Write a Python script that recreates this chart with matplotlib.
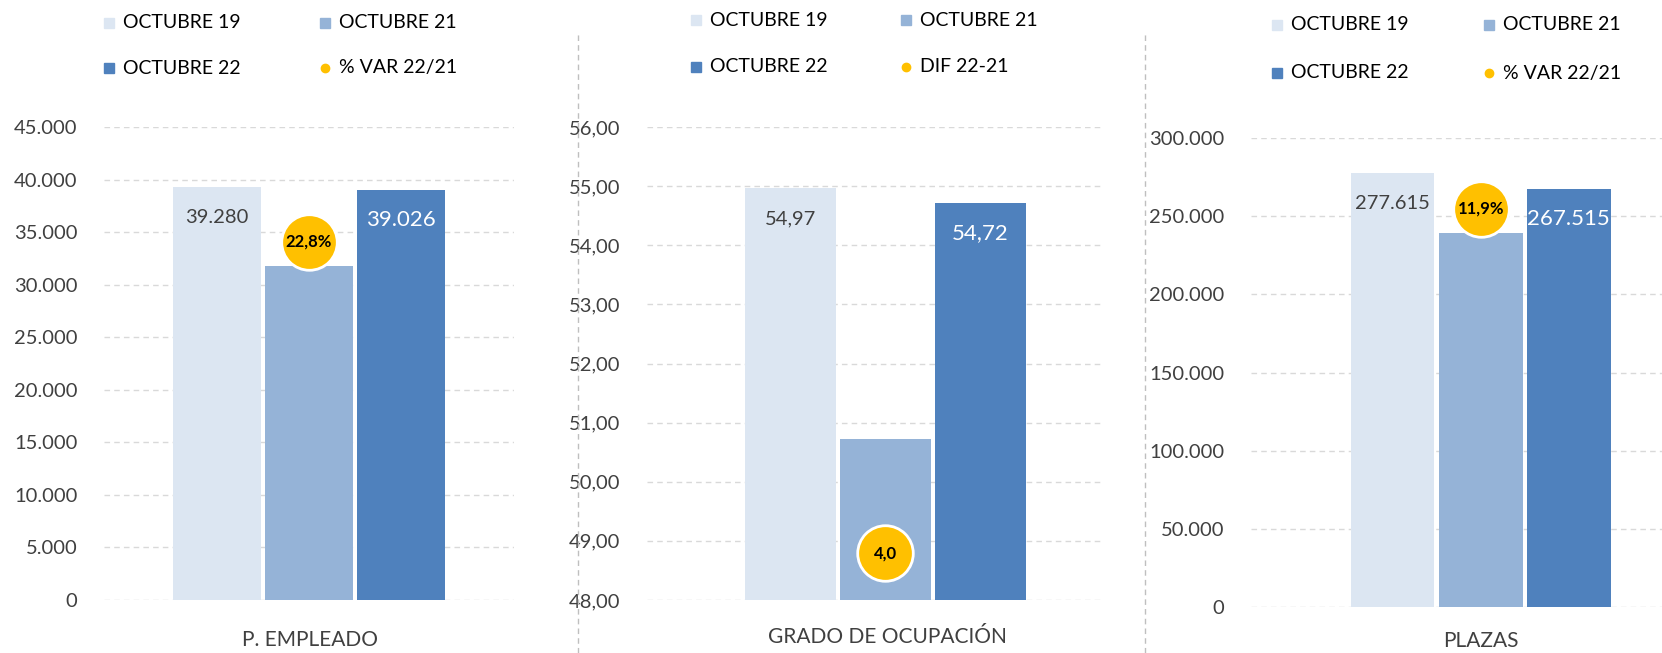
import matplotlib
matplotlib.use("Agg")
import matplotlib.pyplot as plt
from matplotlib.lines import Line2D
from matplotlib.ticker import FuncFormatter

plt.rcParams['font.family'] = ['Lato', 'DejaVu Sans']

# datos
series = ["OCTUBRE 19", "OCTUBRE 21", "OCTUBRE 22"]
colores = ["#DCE6F2", "#95B3D7", "#4F81BD"]
amarillo = "#FFC000"

categorias = ["P. EMPLEADO", "GRADO DE OCUPACIÓN", "PLAZAS"]
empleado = [39280, 31780, 39026]
ocupacion = [54.97, 50.72, 54.72]
plazas = [277615, 239066, 267515]
var_labels = ["22,8%", "4,0", "11,9%"]
var_nombres = ["% VAR 22/21", "DIF 22-21", "% VAR 22/21"]
var_pos = [34100, 48.79, 254600]

W, H = 1662, 653
fig = plt.figure(figsize=(W / 100, H / 100), dpi=100)


def caja(x0, x1, ytop, ybot):
    """pixeles -> fraccion de figura"""
    return [x0 / W, 1 - ybot / H, (x1 - x0) / W, (ybot - ytop) / H]


def fmt_miles(v, pos=None):
    return f"{v:,.0f}".replace(",", ".")


def fmt_dec(v, pos=None):
    return f"{v:.2f}".replace(".", ",")


paneles = [
    dict(box=caja(104, 514, 127, 600), xlim=(-2.23, 2.23), ylim=(0, 45000), step=5000,
         vals=empleado, fmt=fmt_miles, lab_x=292 * 1.06, lab_y=640,
         leg_x=(103 * 1.06, 307 * 1.06), leg_y=(23, 68)),
    dict(box=caja(647, 1102, 127, 600), xlim=(-2.51, 2.28), ylim=(48, 56), step=1,
         vals=ocupacion, fmt=fmt_dec, lab_x=837 * 1.06, lab_y=637,
         leg_x=(657 * 1.06, 855 * 1.06), leg_y=(20, 67)),
    dict(box=caja(1251, 1662, 138, 607), xlim=(-2.61, 2.06), ylim=(0, 300000), step=50000,
         vals=plazas, fmt=fmt_miles, lab_x=1397 * 1.06, lab_y=641,
         leg_x=(1205 * 1.06, 1405 * 1.06), leg_y=(25, 73)),
]

for i, p in enumerate(paneles):
    ax = fig.add_axes(p["box"])
    xs = [-1, 0, 1]
    base = p["ylim"][0]
    alturas = [v - base for v in p["vals"]]
    ax.bar(xs, alturas, bottom=base, width=0.95, color=colores, zorder=2)
    ax.set_xlim(*p["xlim"])
    ax.set_ylim(*p["ylim"])
    ticks = []
    t = p["ylim"][0]
    while t <= p["ylim"][1] + 1e-9:
        ticks.append(t)
        t += p["step"]
    ax.set_yticks(ticks)
    ax.yaxis.set_major_formatter(FuncFormatter(p["fmt"]))
    ax.tick_params(axis="y", length=0, pad=19, labelsize=14.5, labelcolor="#404040")
    ax.set_xticks([])
    for s in ax.spines.values():
        s.set_visible(False)
    ax.grid(axis="y", color="#D9D9D9", linestyle=(0, (4, 3)), linewidth=1, zorder=0)
    ax.set_axisbelow(True)

    # etiquetas de barras
    for x, v, c in [(-1, p["vals"][0], "#404040"), (1, p["vals"][2], "white")]:
        ax.annotate(p["fmt"](v), (x, v),
                    xytext=(0, -22), textcoords="offset points", ha="center", va="center",
                    fontsize=14.5 if c != "white" else 16, color=c, zorder=4)

    # circulo amarillo
    ax.plot([0], [var_pos[i]], "o", markersize=40, color=amarillo,
            markeredgecolor="white", markeredgewidth=2, zorder=5, clip_on=False)
    ax.text(0, var_pos[i], var_labels[i], ha="center", va="center", fontsize=12,
            fontweight="bold", color="black", zorder=6)

    fig.text(p["lab_x"] / W, 1 - p["lab_y"] / H, categorias[i], ha="center", va="center",
             fontsize=15, color="#404040")

    # leyenda manual
    items = [(series[0], colores[0], "s", 0, 0), (series[1], colores[1], "s", 1, 0),
             (series[2], colores[2], "s", 0, 1), (var_nombres[i], amarillo, "o", 1, 1)]
    for txt, col, mk, cx, cy in items:
        mx = p["leg_x"][cx]
        my = 1 - p["leg_y"][cy] / H
        fig.add_artist(Line2D([mx / W], [my], marker=mk, color=col, linestyle="none",
                              markersize=7 if mk == "s" else 6, transform=fig.transFigure))
        fig.text((mx + 14) / W, my, txt, ha="left", va="center", fontsize=14, color="black")

# separadores verticales
for xs in [578, 1145]:
    fig.add_artist(Line2D([xs / W, xs / W], [0, 1 - 32 / H], color="#BFBFBF",
                          linestyle=(0, (4, 3)), linewidth=1, transform=fig.transFigure))

fig.savefig("out.png", dpi=100, facecolor="white")
